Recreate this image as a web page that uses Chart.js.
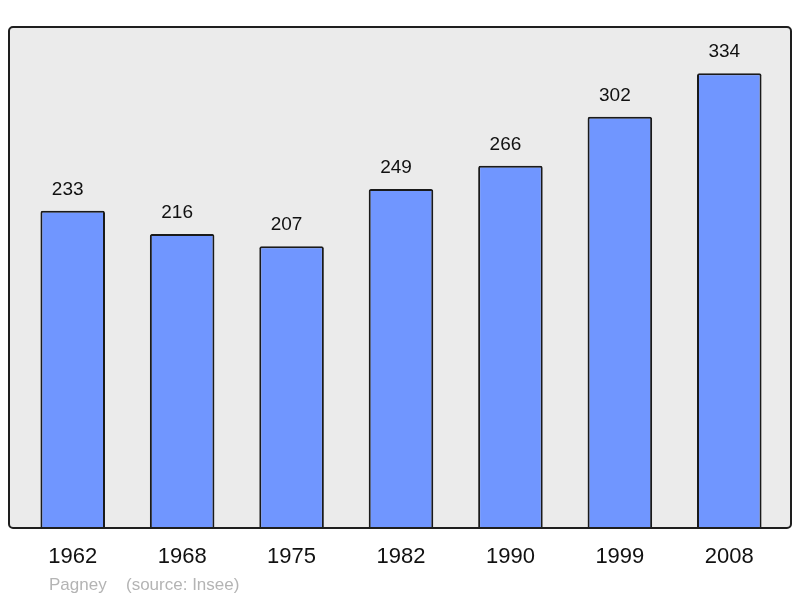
<!DOCTYPE html>
<html>
<head>
<meta charset="utf-8">
<script src="https://cdn.jsdelivr.net/npm/chart.js@4"></script>
<style>
  html, body { margin: 0; padding: 0; background: #fff; }
  #wrap { width: 800px; height: 598px; }
</style>
</head>
<body>
<div id="wrap"><canvas id="chart" width="800" height="598"></canvas></div>
<script>
    // data
    const years = ['1962', '1968', '1975', '1982', '1990', '1999', '2008'];
    const population = [233, 216, 207, 249, 266, 302, 334];
    const commune = 'Pagney';
    const source = '(source: Insee)';

    // grey frame behind the bars, a bit wider than the chart area
    const framePlugin = {
        id: 'frame',
        beforeDraw(chart) {
            const ctx = chart.ctx;
            const a = chart.chartArea;
            const x0 = 9, x1 = 791, y0 = a.top, y1 = a.bottom;
            ctx.save();
            ctx.beginPath();
            ctx.roundRect(x0, y0, x1 - x0, y1 - y0, 4);
            ctx.fillStyle = '#ebebeb';
            ctx.fill();
            ctx.restore();
        },
        afterDraw(chart) {
            const ctx = chart.ctx;
            const a = chart.chartArea;
            const x0 = 9, x1 = 791, y0 = a.top, y1 = a.bottom;
            ctx.save();
            ctx.beginPath();
            ctx.roundRect(x0, y0, x1 - x0, y1 - y0, 4);
            ctx.lineWidth = 2;
            ctx.strokeStyle = '#1e1e1e';
            ctx.stroke();

            // value over each bar (slightly left of centre, like the original)
            ctx.font = '19px "Liberation Sans", Arial, sans-serif';
            ctx.fillStyle = '#111';
            ctx.textAlign = 'center';
            ctx.textBaseline = 'alphabetic';
            const meta = chart.getDatasetMeta(0);
            meta.data.forEach(function(bar, i) {
                ctx.fillText(String(population[i]), bar.x - 5, bar.y - 16);
            });

            // footer
            ctx.font = '17px "Liberation Sans", Arial, sans-serif';
            ctx.fillStyle = '#b4b4b4';
            ctx.textAlign = 'left';
            ctx.fillText(commune, 49, 590);
            ctx.fillText(source, 126, 590);
            ctx.restore();
        }
    };

    const chart = new Chart(document.getElementById('chart'), {
        type: 'bar',
        data: {
            labels: years,
            datasets: [{
                data: population,
                backgroundColor: '#7096ff',
                borderColor: '#1a1a1a',
                borderWidth: 2,
                borderRadius: 2,
                borderSkipped: 'bottom',
                categoryPercentage: 1,
                barPercentage: 0.59
            }]
        },
        options: {
            responsive: false,
            animation: false,
            layout: { padding: { left: 18, right: 16, top: 27, bottom: 0 } },
            plugins: {
                legend: { display: false },
                tooltip: { enabled: false }
            },
            scales: {
                x: {
                    grid: { display: false, drawTicks: false },
                    border: { display: false },
                    ticks: {
                        color: '#111',
                        padding: 16,
                        font: { family: '"Liberation Sans", Arial, sans-serif', size: 22 }
                    },
                    afterFit: function(scale) { scale.height = 70; }
                },
                y: {
                    display: false,
                    min: 0,
                    max: 368
                }
            }
        },
        plugins: [framePlugin]
    });
</script>
</body>
</html>
